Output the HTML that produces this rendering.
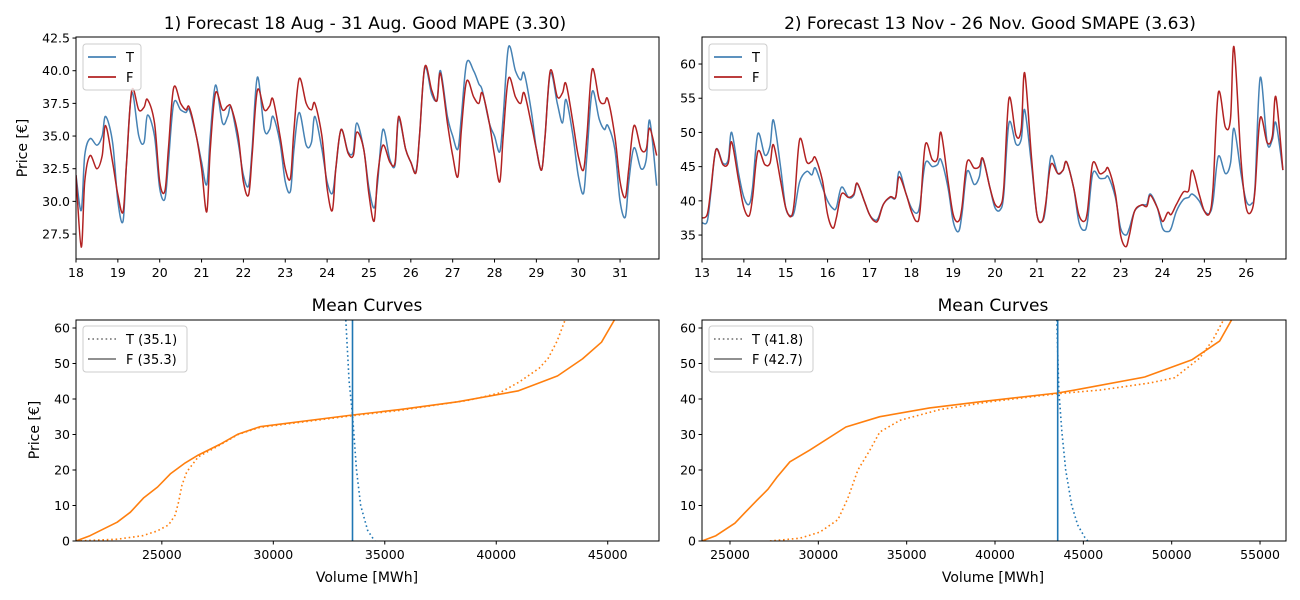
<!DOCTYPE html>
<html><head><meta charset="utf-8"><style>
body{margin:0;background:#fff;}
svg{display:block;font-family:"DejaVu Sans","Liberation Sans",sans-serif;}
</style></head><body>
<svg id="c" width="1300" height="600"></svg>
<script>
// ---------- data ----------
const hoursOfDay=[0,3,5,8,12,15,17,21];
const tlDays=[18,19,20,21,22,23,24,25,26,27,28,29,30,31];
const tlT=[32,29.3,33.5,34.8,34.3,35,36.5,34.5, 30,28.5,33,38.3,35,34.5,36.6,35, 31,30.2,33,37.5,37,36.8,37,35, 33,31.3,35,38.9,36,36.5,37.2,34.5, 32,31.2,34,39.5,35.5,35.5,36.5,34.5, 31.5,30.8,34,36.8,34.3,34.5,36.5,34, 31.5,30.6,32.5,35.5,33.8,33.8,36,34, 31,29.5,31.5,35.5,33.2,32.8,36.3,34, 33,32.3,35,40.2,38.2,37.8,40,36.5, 35,34,36.5,40.6,40,39,38.5,36, 35,33.8,36.5,41.8,40,39.3,39.8,37, 34,32.4,35,39.8,37.5,36,37.8,35, 32,30.6,33.5,38.4,36.3,35.5,35.8,34, 30,28.8,31.5,34.1,32.5,33.2,36.2,31.2];
const tlF=[32,26.5,31.5,33.5,32.5,33.5,35.8,33, 30.5,29.2,33,38.5,37,37.2,37.8,36, 31.5,30.8,34,38.7,37.5,37,37.2,35, 32.5,29.2,34,38.3,37,37.3,37.2,35, 31.5,30.5,33.5,38.5,37,37.3,37.8,35, 32.5,31.8,35.5,39.4,37.5,37,37.5,35, 31,29.3,32.5,35.5,33.7,33.5,35.3,34, 30.5,28.5,32,34.3,33,33,36.5,34, 33,32.2,35,40.3,38.5,37.7,39.8,36, 33.5,31.9,35.5,39.2,38,37.5,38.3,36, 33.5,31.5,35,39.4,38,37.5,38.3,36, 34,32.4,35,40,38,38.3,39,36, 33.5,32.4,35,40.1,37.8,37.5,37.8,35, 31.5,30.3,32.5,35.8,34,34,35.6,33.5];
const trDays=[13,14,15,16,17,18,19,20,21,22,23,24,25,26];
const trT=[36.8,37,41,47.5,45.5,46,50,44, 40.5,39.5,42,49.8,46.7,48,51.8,45, 39,37.8,38.5,42.8,44.3,43.8,44.8,42, 40,38.9,39,42,40.5,40.8,42.5,40, 38,37.2,37.5,39.5,40.5,40.5,44.3,41, 39,38.2,39.5,45.5,45,45.3,46,42, 37,35.5,38,44.3,42.4,43.5,46.2,42, 39,38.7,41,51.4,48.3,49,53.3,45, 38,37,39,46.5,44,44.5,45.7,42, 37,35.7,37,44,43.3,43.3,43.5,40.5, 36,35,36,38.5,39.4,39.5,41,39, 36,35.5,36,38.5,40.2,40.5,41,40, 38.5,38.2,40,46.5,44,45.5,50.6,44, 40,39.6,42,58,48.5,49,51.4,44.5];
const trF=[37.5,38,41.5,47.5,45.3,45.5,48.6,43, 39,37.8,40.5,47.2,45.3,45.5,48.2,43, 39,37.7,40,49,45.7,45.8,46.3,43, 38,36,37.5,41,40.5,41,42.6,40, 38,37,37.2,39.5,40.6,40.5,43.5,41, 38.5,37,38.5,48.2,46,46.2,50,43, 38,37,39,45.7,44.8,45,46.2,42, 39.5,39.3,42,55,49.6,50.5,58.7,46, 38,37,39.5,45.3,44,44.5,45.7,42, 38,37,38.5,45.5,44,44.3,44.7,41, 35,33.3,35,38.5,39.4,39.2,40.8,39, 37,38.3,38,39.5,41.3,41.5,44.5,41, 38.5,38.2,42,55.8,50.8,52,62.5,46, 39,38.5,41.5,52.1,48.5,49.5,55.2,44.5];
const tlTicksX=[18,19,20,21,22,23,24,25,26,27,28,29,30,31];
const tlTicksY=[27.5,30.0,32.5,35.0,37.5,40.0,42.5];
const trTicksX=[13,14,15,16,17,18,19,20,21,22,23,24,25,26];
const trTicksY=[35,40,45,50,55,60];
// mean curves (volume, price)
const blSupFVol=[21150,21780,23000,23590,24190,24810,25380,26050,26630,27600,28420,29400,33550,35670,38260,41000,42750,43870,44720,45300];
const blSupFPrice=[0,1.5,5.3,8.1,12.2,15.2,18.9,22,24.2,27.2,30.1,32.2,35.5,37,39.2,42.3,46.5,51.3,56,62.25];
const blSupTVol=[21150,23000,24140,24780,25300,25600,25750,25900,26120,26630,27600,28420,29400,33550,35670,38800,40140,41030,41930,42330,42730,43090];
const blSupTPrice=[0,0.5,1.5,2.8,4.5,7.3,11,15.7,19.5,23.7,27,30,32,35.3,36.8,39.7,41.7,44.8,48.7,51.5,56.3,62.25];
const blDemF=33551;
const blDemTVol=[33250,33400,33550,33730,33920,34230,34550];
const blDemTPrice=[62.25,45,35.5,20,10,3,0];
const brSupFVol=[23416,24200,25280,25850,26530,27150,27660,28390,29520,31560,33480,36300,39140,43550,44510,48470,51130,52710,53390];
const brSupFPrice=[0,1.5,5,8,11.5,14.6,18,22.3,25.6,32.1,35,37.5,39.2,41.7,42.5,46.2,51,56.3,62.3];
const brSupTVol=[27260,28960,30090,31110,31670,32240,32920,33480,34620,36880,39700,43550,45930,48760,50170,51580,52320,52940];
const brSupTPrice=[0,0.8,2.5,6,12,20,25.6,30.7,34,37,39.2,41.5,42.5,44.5,46,51.5,56.6,62.3];
const brDemF=43550;
const brDemTVol=[43500,43610,43780,44000,44340,44680,45080,45250];
const brDemTPrice=[62.3,42.5,31,20,10,4.5,1,0];
const blTicksX=[25000,30000,35000,40000,45000];
const brTicksX=[25000,30000,35000,40000,45000,50000,55000];
const bTicksY=[0,10,20,30,40,50,60];

// ---------- drawing ----------
const NS='http://www.w3.org/2000/svg';
const svg=document.getElementById('c');
function el(tag,attrs,parent){const e=document.createElementNS(NS,tag);for(const k in attrs)e.setAttribute(k,attrs[k]);(parent||svg).appendChild(e);return e;}
let clipId=0;
function panel(key,L,T,W,H,x0,x1,y0,y1){
  const g=el('g',{});
  
  
  const id='clip'+(clipId++);
  const cp=el('clipPath',{id:id},g);el('rect',{x:L,y:T,width:W,height:H},cp);
  const plot=el('g',{'clip-path':'url(#'+id+')'},g);
  return {g,plot,sx:v=>L+(v-x0)/(x1-x0)*W,sy:v=>T+H-(v-y0)/(y1-y0)*H,L,T,W,H};
}
function frame(p,key){
  const r=el('rect',{x:p.L,y:p.T,width:p.W,height:p.H,fill:'none',stroke:'#000','stroke-width':1},p.g);
  
  
}
function ticksX(p,vals,labelFn,key){
  vals.forEach(v=>{const x=p.sx(v);
    el('line',{x1:x,x2:x,y1:p.T+p.H,y2:p.T+p.H+3.5,stroke:'#000'},p.g);
    const t=el('text',{x:x,y:p.T+p.H+18,'font-size':12.5,'text-anchor':'middle'},p.g);t.textContent=labelFn(v);
    
    
  });
}
function ticksY(p,vals,labelFn,key){
  vals.forEach(v=>{const y=p.sy(v);
    el('line',{x1:p.L-3.5,x2:p.L,y1:y,y2:y,stroke:'#000'},p.g);
    const t=el('text',{x:p.L-6,y:y+4.5,'font-size':12.5,'text-anchor':'end'},p.g);t.textContent=labelFn(v);
    
    
  });
}
function line(p,xs,ys,color,name,dash,w,smooth){
  const P=xs.map((x,i)=>[p.sx(x),p.sy(ys[i])]);
  let d='M'+P[0][0].toFixed(1)+','+P[0][1].toFixed(1);
  for(let i=1;i<P.length;i++){
    if(smooth){
      const p0=P[Math.max(i-2,0)],p1=P[i-1],p2=P[i],p3=P[Math.min(i+1,P.length-1)];
      const c1x=p1[0]+(p2[0]-p0[0])/6,c1y=p1[1]+(p2[1]-p0[1])/6;
      const c2x=p2[0]-(p3[0]-p1[0])/6,c2y=p2[1]-(p3[1]-p1[1])/6;
      d+='C'+c1x.toFixed(1)+','+c1y.toFixed(1)+' '+c2x.toFixed(1)+','+c2y.toFixed(1)+' '+p2[0].toFixed(1)+','+p2[1].toFixed(1);
    } else d+='L'+P[i][0].toFixed(1)+','+P[i][1].toFixed(1);
  }
  const a={d:d,fill:'none',stroke:color,'stroke-width':w||1.6,'stroke-linejoin':'round'};
  if(dash){a['stroke-dasharray']=dash;a['stroke-linecap']='butt';}
  const e=el('path',a,p.plot);
  
  
}
function text(x,y,s,size,name,extra){
  const a=Object.assign({x:x,y:y,'font-size':size,'text-anchor':'middle'},extra||{});
  const t=el('text',a);t.textContent=s;
  
  
}
function legend(x,y,w,entries,name){
  const g=el('g',{});
  
  
  el('rect',{x:x,y:y,width:w,height:46,rx:3,fill:'#fff','fill-opacity':0.8,stroke:'#ccc'},g);
  entries.forEach((e,i)=>{const yy=y+13+i*20;
    const a={x1:x+5,x2:x+33,y1:yy,y2:yy,stroke:e.c,'stroke-width':1.8};if(e.dash)a['stroke-dasharray']=e.dash;
    el('line',a,g);
    const t=el('text',{x:x+43,y:yy+5,'font-size':13},g);t.textContent=e.t;
  });
}
function timeXs(days){const xs=[];days.forEach(d=>hoursOfDay.forEach(h=>xs.push(d+h/24)));return xs;}

// top-left
const tl=panel('top-left',76,37,583,222,18,31.93,25.59,42.58);
let xs=timeXs(tlDays);
line(tl,xs,tlT,'#4682b4','series-t-aug',null,1.5,true);
line(tl,xs,tlF,'#b22222','series-f-aug',null,1.5,true);
frame(tl,'top-left');
ticksX(tl,tlTicksX,v=>String(v),'top-left');
ticksY(tl,tlTicksY,v=>v.toFixed(1),'top-left');
legend(83,44,58,[{c:'#4682b4',t:'T'},{c:'#b22222',t:'F'}],'top-left-legend');
text(365,29,'1) Forecast 18 Aug - 31 Aug. Good MAPE (3.30)',17,'top-left-title');
text(27,148,'Price [€]',14,'top-left-y-axis-title',{transform:'rotate(-90 27 148)'});

// top-right
const tr=panel('top-right',702,37,584,222,13,26.95,31.5,63.95);
xs=timeXs(trDays);
line(tr,xs,trT,'#4682b4','series-t-nov',null,1.5,true);
line(tr,xs,trF,'#b22222','series-f-nov',null,1.5,true);
frame(tr,'top-right');
ticksX(tr,trTicksX,v=>String(v),'top-right');
ticksY(tr,trTicksY,v=>String(v),'top-right');
legend(709,44,58,[{c:'#4682b4',t:'T'},{c:'#b22222',t:'F'}],'top-right-legend');
text(990,29,'2) Forecast 13 Nov - 26 Nov. Good SMAPE (3.63)',17,'top-right-title');

// bottom-left
const bl=panel('bottom-left',76,320,583,221,21150,47300,0,62.25);
line(bl,blSupFVol,blSupFPrice,'#ff7f0e','supply-f-aug');
line(bl,blSupTVol,blSupTPrice,'#ff7f0e','supply-t-aug','1.6,2.8');
line(bl,[blDemF,blDemF],[0,62.25],'#1f77b4','demand-f-aug');
line(bl,blDemTVol,blDemTPrice,'#1f77b4','demand-t-aug','1.6,2.8');
frame(bl,'bottom-left');
ticksX(bl,blTicksX,v=>String(v),'bottom-left');
ticksY(bl,bTicksY,v=>String(v),'bottom-left');
legend(83,326,104,[{c:'#808080',t:'T (35.1)',dash:'1.6,2.8'},{c:'#808080',t:'F (35.3)'}],'bottom-left-legend');
text(367,311,'Mean Curves',17,'bottom-left-title');
text(367,582,'Volume [MWh]',14,'bottom-left-x-axis-title');
text(39,430,'Price [€]',14,'bottom-left-y-axis-title',{transform:'rotate(-90 39 430)'});

// bottom-right
const br=panel('bottom-right',702,320,584,221,23416,56470,0,62.25);
line(br,brSupFVol,brSupFPrice,'#ff7f0e','supply-f-nov');
line(br,brSupTVol,brSupTPrice,'#ff7f0e','supply-t-nov','1.6,2.8');
line(br,[brDemF,brDemF],[0,62.25],'#1f77b4','demand-f-nov');
line(br,brDemTVol,brDemTPrice,'#1f77b4','demand-t-nov','1.6,2.8');
frame(br,'bottom-right');
ticksX(br,brTicksX,v=>String(v),'bottom-right');
ticksY(br,bTicksY,v=>String(v),'bottom-right');
legend(709,326,104,[{c:'#808080',t:'T (41.8)',dash:'1.6,2.8'},{c:'#808080',t:'F (42.7)'}],'bottom-right-legend');
text(993,311,'Mean Curves',17,'bottom-right-title');
text(993,582,'Volume [MWh]',14,'bottom-right-x-axis-title');
</script>
</body></html>
